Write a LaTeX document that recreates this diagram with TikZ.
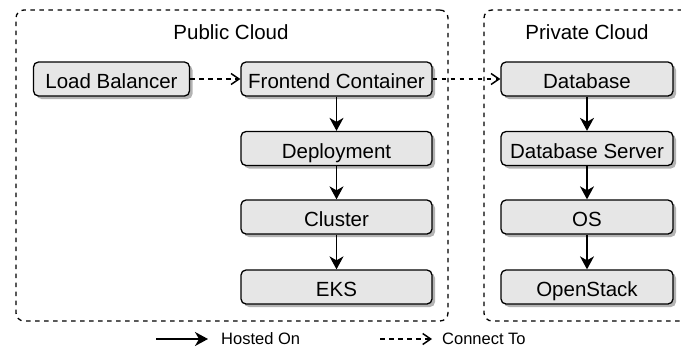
\documentclass[tikz,border=0pt]{standalone}
\usepackage{fontspec}
\setmainfont{Liberation Sans}
\usetikzlibrary{arrows.meta,shadows}

\definecolor{boxgray}{HTML}{E6E6E6}
\definecolor{shadowgray}{HTML}{B3B3B3}

\tikzset{
  block/.style={draw, line width=1.3pt, rounded corners=5pt, fill=boxgray,
    minimum height=34pt, inner sep=0pt, text height=19pt, text depth=0pt,
    font=\fontsize{20.5}{24}\selectfont,
    drop shadow={shadow xshift=3pt, shadow yshift=-3pt, fill=shadowgray, opacity=1}},
  leftcol/.style={block, minimum width=191pt},
  rightcol/.style={block, minimum width=172pt},
  container/.style={draw, line width=1.3pt, rounded corners=8pt,
    dash pattern=on 4.5pt off 4.5pt, inner sep=0pt},
  title/.style={font=\fontsize{20.5}{24}\selectfont, inner sep=0pt},
  legendtext/.style={font=\fontsize{16.5}{20}\selectfont, inner sep=0pt, anchor=west},
  hosted/.style={line width=1.5pt, -{Stealth[length=13pt, width=14pt, inset=4pt]}},
  connects/.style={line width=1.5pt, dash pattern=on 4.5pt off 4.5pt,
    -{Straight Barb[length=8pt, width=11pt, line width=1.5pt]}},
}

\begin{document}
\begin{tikzpicture}[x=1pt, y=-1pt]
  \useasboundingbox (0,0) rectangle (681,349);
  \clip (0,0) rectangle (681,349);

  % cloud containers
  \node[container, minimum width=432pt, minimum height=311pt] (pub) at (232,165.5) {};
  \node[container, minimum width=206pt, minimum height=311pt] (priv) at (587,165.5) {};
  \node[title] (pubtitle) at (231,32.5) {Public Cloud};
  \node[title] (privtitle) at (587,32.5) {Private Cloud};

  % public cloud stack
  \node[block, minimum width=156pt] (lb) at (111.5,79) {Load Balancer};
  \node[leftcol] (fe) at (336.5,79) {Frontend Container};
  \node[leftcol] (dep) at (336.5,148.5) {Deployment};
  \node[leftcol] (cl) at (336.5,217) {Cluster};
  \node[leftcol] (eks) at (336.5,287) {EKS};

  % private cloud stack
  \node[rightcol] (db) at (587,79) {Database};
  \node[rightcol] (dbs) at (587,148.5) {Database Server};
  \node[rightcol] (os) at (587,217) {OS};
  \node[rightcol] (ops) at (587,287) {OpenStack};

  % connections
  \draw[connects] (lb) -- (fe);
  \draw[connects] (fe) -- (db);
  \draw[hosted] (fe) -- (dep);
  \draw[hosted] (dep) -- (cl);
  \draw[hosted] (cl) -- (eks);
  \draw[hosted] (db) -- (dbs);
  \draw[hosted] (dbs) -- (os);
  \draw[hosted] (os) -- (ops);

  % legend
  \coordinate (h1) at (156,339);
  \coordinate (h2) at (208,339);
  \draw[hosted] (h1) -- (h2);
  \node[legendtext] (hl) at (221,339) {Hosted On};
  \coordinate (c1) at (380,339);
  \coordinate (c2) at (432,339);
  \draw[connects] (c1) -- (c2);
  \node[legendtext] (cl2) at (442,339) {Connect To};
\end{tikzpicture}
\end{document}
